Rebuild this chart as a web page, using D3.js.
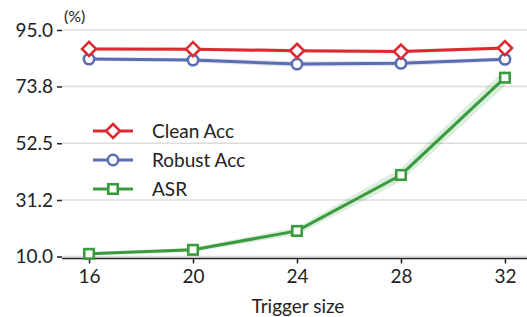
<!DOCTYPE html>
<html>
<head>
<meta charset="utf-8">
<script src="https://cdn.jsdelivr.net/npm/d3@7"></script>
<style>
  body { margin: 0; background: #fff; }
  svg { display: block; font-family: Lato, "Open Sans", sans-serif; }
</style>
</head>
<body>
<div id="root"></div>
<script>
// data
const triggerSizes = [16, 20, 24, 28, 32];
const cleanAcc = [87.9, 87.8, 87.2, 86.9, 88.2];
const robustAcc = [84.1, 83.7, 82.2, 82.5, 84.0];
const asr = [11.0, 12.5, 19.6, 40.6, 77.1];
const cleanStd = [0.6, 0.6, 0.7, 0.7, 0.6];
const robustStd = [0.7, 0.9, 1.1, 1.0, 0.8];
const asrStd = [0.6, 0.8, 1.4, 2.5, 3.0];
const yTicks = [10.0, 31.2, 52.5, 73.8, 95.0];

const width = 527;
const height = 317;
const fontSize = 19;

const series = [
  { name: 'Clean Acc', values: cleanAcc, std: cleanStd, color: '#dd2a30', marker: 'diamond' },
  { name: 'Robust Acc', values: robustAcc, std: robustStd, color: '#5a6db0', marker: 'circle' },
  { name: 'ASR', values: asr, std: asrStd, color: '#3a9b3e', marker: 'square' },
];

const x = d3.scaleLinear().domain([14.96, 33.04]).range([62, 532]);
const y = d3.scaleLinear().domain([10, 95]).range([256.5, 30]);
const plotBottom = 258.5;

const svg = d3.select('#root').append('svg')
  .attr('width', width)
  .attr('height', height);

// grid lines
svg.append('g')
  .selectAll('line')
  .data(yTicks)
  .join('line')
  .attr('x1', 62)
  .attr('x2', width)
  .attr('y1', d => y(d))
  .attr('y2', d => y(d))
  .attr('stroke', '#dcdcdc')
  .attr('stroke-width', 1.5);

// y axis (ticks + labels only)
const yAxis = svg.append('g')
  .attr('transform', 'translate(62,0)')
  .call(d3.axisLeft(y).tickValues(yTicks).tickFormat(d3.format('.1f')).tickSize(5).tickPadding(4));
yAxis.select('.domain').remove();
yAxis.selectAll('.tick line').attr('stroke', '#222').attr('stroke-width', 1.5);
yAxis.selectAll('.tick text')
  .attr('font-size', fontSize)
  .attr('fill', '#222')
  .style('font-family', 'Lato, sans-serif');

// x axis
const xAxis = svg.append('g')
  .attr('transform', `translate(0,${plotBottom})`)
  .call(d3.axisBottom(x).tickValues(triggerSizes).tickSize(5).tickPadding(6));
xAxis.select('.domain').attr('d', `M62,0H${width}`).attr('stroke', '#222').attr('stroke-width', 1.5);
xAxis.selectAll('.tick line').attr('stroke', '#222').attr('stroke-width', 1.5);
xAxis.selectAll('.tick text')
  .attr('font-size', fontSize)
  .attr('fill', '#222')
  .style('font-family', 'Lato, sans-serif');

// axis labels
svg.append('text')
  .attr('x', 64)
  .attr('y', 22)
  .attr('font-size', 16)
  .attr('fill', '#222')
  .text('(%)');

svg.append('text')
  .attr('x', 298)
  .attr('y', 313)
  .attr('text-anchor', 'middle')
  .attr('font-size', fontSize)
  .attr('fill', '#222')
  .text('Trigger size');

const band = d3.area()
  .x(d => x(d.x))
  .y0(d => y(d.v - d.s))
  .y1(d => y(d.v + d.s));
const line = d3.line()
  .x(d => x(d.x))
  .y(d => y(d.v));

function drawMarker(g, type, cx, cy, color) {
  if (type === 'diamond') {
    const r = 7;
    g.append('path')
      .attr('d', `M${cx},${cy - r}L${cx + r},${cy}L${cx},${cy + r}L${cx - r},${cy}Z`)
      .attr('fill', '#fff').attr('stroke', color).attr('stroke-width', 2.6);
  } else if (type === 'circle') {
    g.append('circle')
      .attr('cx', cx).attr('cy', cy).attr('r', 5.2)
      .attr('fill', '#fff').attr('stroke', color).attr('stroke-width', 2.6);
  } else {
    const s = 9.5;
    g.append('rect')
      .attr('x', cx - s / 2).attr('y', cy - s / 2)
      .attr('width', s).attr('height', s)
      .attr('fill', '#fff').attr('stroke', color).attr('stroke-width', 2.6);
  }
}

// draw series back to front so Clean Acc is on top
series.slice().reverse().forEach(s => {
  const pts = triggerSizes.map((t, i) => ({ x: t, v: s.values[i], s: s.std[i] }));
  const g = svg.append('g');
  g.append('path')
    .attr('d', band(pts))
    .attr('fill', s.color)
    .attr('opacity', 0.18);
  g.append('path')
    .attr('d', line(pts))
    .attr('fill', 'none')
    .attr('stroke', s.color)
    .attr('stroke-width', 3);
  pts.forEach(p => drawMarker(g, s.marker, x(p.x), y(p.v), s.color));
});

// legend
const legend = svg.append('g');
series.forEach((s, i) => {
  const ly = 131 + i * 29;
  legend.append('line')
    .attr('x1', 93).attr('x2', 133)
    .attr('y1', ly).attr('y2', ly)
    .attr('stroke', s.color).attr('stroke-width', 3);
  drawMarker(legend, s.marker, 113, ly, s.color);
  legend.append('text')
    .attr('x', 152)
    .attr('y', ly)
    .attr('dy', '0.35em')
    .attr('font-size', fontSize)
    .attr('fill', '#222')
    .text(s.name);
});
</script>
</body>
</html>
